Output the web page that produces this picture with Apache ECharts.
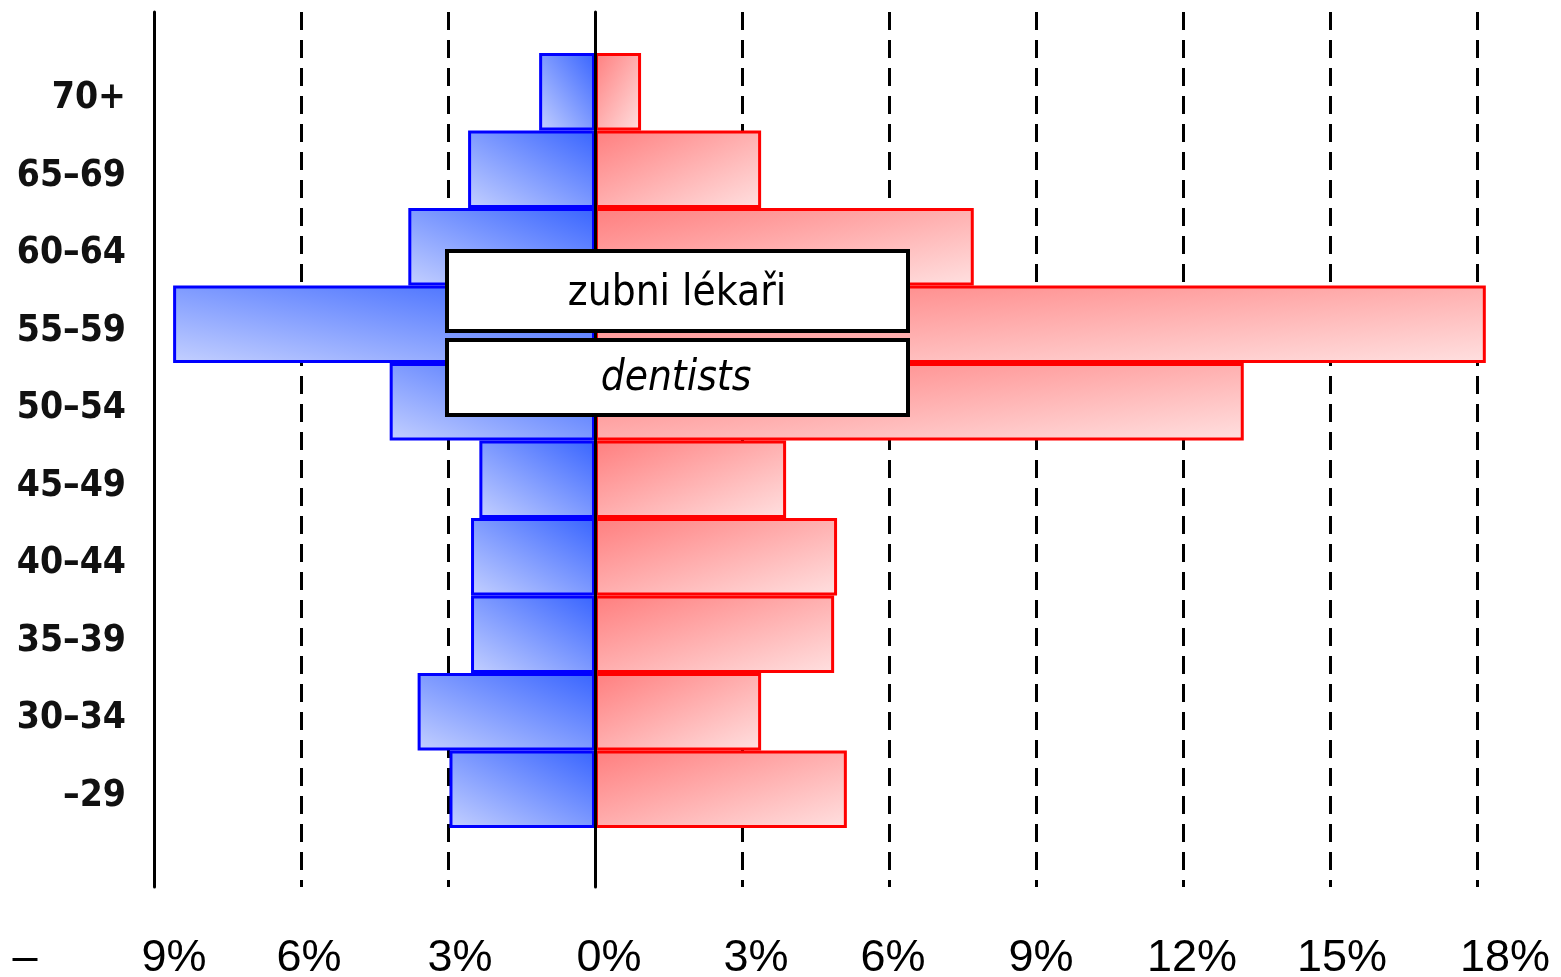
<!DOCTYPE html>
<html><head><meta charset="utf-8">
<script src="https://cdn.jsdelivr.net/npm/echarts@6/dist/echarts.min.js"></script>
<style>html,body{margin:0;padding:0;background:#fff}#c{width:1561px;height:977px}</style>
</head><body><div id="c"></div>
<script>
const categories = ['70+', '65–69', '60–64', '55–59', '50–54', '45–49', '40–44', '35–39', '30–34', '–29'];
const leftValues = [1.14, 2.59, 3.81, 8.61, 4.19, 2.36, 2.53, 2.53, 3.62, 2.97];
const rightValues = [0.94, 3.39, 7.73, 18.18, 13.24, 3.90, 4.94, 4.88, 3.39, 5.14];
const axisMin = -9, axisMax = 18, axisStep = 3;
const titleTop = 'zubni lékaři';
const titleBottom = 'dentists';

// ---- layout ----
const W = 1561, H = 977;
const gLeft = 154, gRight = 84;
const barTop = 53, barBottom = 149;
const pxPerUnit = (W - gLeft - gRight) / (axisMax - axisMin);
const bandH = (H - barTop - barBottom) / categories.length;

// ---- pick a narrow font ----
const ctx = document.createElement('canvas').getContext('2d');
function tw(font, s) { ctx.font = font; return ctx.measureText(s).width; }
const probe = '65–69 zubni lékaři dentists';
function hasFam(fam) {
  return Math.abs(tw('bold 40px ' + fam + ', monospace', probe) - tw('bold 40px monospace', probe)) > 0.5;
}
let fam = '"Liberation Sans", Arial, sans-serif', stretch = '';
const cands = [
  ['"Liberation Sans Narrow"', ''], ['"Arial Narrow"', ''], ['"DejaVu Sans Condensed"', ''],
  ['"Noto Sans"', 'condensed'], ['"DejaVu Sans"', 'condensed'], ['"Open Sans"', 'condensed']
];
for (const [f, s] of cands) {
  if (!hasFam(f)) continue;
  if (s) {
    if (tw('bold condensed 40px ' + f, probe) < 0.93 * tw('bold 40px ' + f, probe)) { fam = f; stretch = s; break; }
  } else { fam = f; stretch = ''; break; }
}
const st = stretch ? stretch + ' ' : '';
const labelWeight = 'bold' + (stretch ? ' ' + stretch : '');
const labelSize = Math.round(40 * 110 / tw(labelWeight + ' 40px ' + fam, '65–69'));
const boxSize = Math.round(40 * 218 / tw(st + '40px ' + fam, titleTop));

const tickFont = '"Liberation Sans", Arial, sans-serif';
const tickPad = {'-9': 40, '-6': 16, '-3': 24, '0': 28, '3': 28, '6': 8, '9': 10, '12': 18, '15': 24, '18': 56};
const rich = {};
Object.keys(tickPad).forEach((k, i) => {
  rich['p' + i] = {fontSize: 45, color: '#000', fontFamily: tickFont, padding: [0, 0, 0, tickPad[k]]};
});
const tickKeys = Object.keys(tickPad);

function blueGrad(v) {
  const w = v * pxPerUnit, h = bandH, d = w * w + h * h;
  return new echarts.graphic.LinearGradient(0, 1, 2 * h * h / d, 1 - 2 * w * w / d, [
    {offset: 0, color: '#c4d0ff'}, {offset: 1, color: '#3864ff'}]);
}
function redGrad(v) {
  const w = v * pxPerUnit, h = bandH, d = w * w + h * h;
  return new echarts.graphic.LinearGradient(0, 0, 2 * h * h / d, 2 * w * w / d, [
    {offset: 0, color: '#ff7e7e'}, {offset: 1, color: '#ffe0e0'}]);
}

const chart = echarts.init(document.getElementById('c'), null, {renderer: 'canvas'});
chart.setOption({
  animation: false,
  backgroundColor: '#fff',
  grid: [
    {left: gLeft, right: gRight, top: 12, bottom: 90, containLabel: false, outerBoundsMode: 'none'},
    {left: gLeft, right: gRight, top: barTop, bottom: barBottom, containLabel: false, outerBoundsMode: 'none'}
  ],
  xAxis: [
    {gridIndex: 0, type: 'value', min: axisMin, max: axisMax, interval: axisStep,
     axisLine: {show: false}, axisTick: {show: false},
     splitLine: {show: true, lineStyle: {color: '#000', width: 3, type: [18, 10]}},
     axisLabel: {
       formatter: v => '{p' + tickKeys.indexOf(String(v)) + '|' + Math.abs(v) + '%}',
       rich: rich, fontSize: 45, color: '#000', fontFamily: tickFont, margin: 49,
       showMinLabel: true, showMaxLabel: true, hideOverlap: false}},
    {gridIndex: 1, type: 'value', min: axisMin, max: axisMax, show: false}
  ],
  yAxis: [
    {gridIndex: 0, type: 'value', min: 0, max: 1, position: 'left',
     axisLine: {show: true, onZero: false, lineStyle: {color: '#000', width: 3}},
     axisLabel: {show: false}, axisTick: {show: false}, splitLine: {show: false}},
    {gridIndex: 0, type: 'value', min: 0, max: 1, position: 'left', z: 5,
     axisLine: {show: true, onZero: true, lineStyle: {color: '#000', width: 3}},
     axisLabel: {show: false}, axisTick: {show: false}, splitLine: {show: false}},
    {gridIndex: 1, type: 'category', data: categories, inverse: true,
     axisLine: {show: false}, axisTick: {show: false}, splitLine: {show: false},
     axisLabel: {formatter: v => '{c|' + v + '}', margin: 28,
       fontSize: labelSize, fontWeight: labelWeight, fontFamily: fam, color: '#111',
       rich: {c: {fontSize: labelSize, fontWeight: labelWeight, fontFamily: fam, color: '#111',
         padding: [14, 0, 0, 0]}}}}
  ],
  series: [
    {type: 'bar', xAxisIndex: 1, yAxisIndex: 2, clip: false,
     data: leftValues.map(v => ({value: -v, itemStyle: {color: blueGrad(v)}})),
     barWidth: '100%', barGap: '-100%',
     itemStyle: {borderColor: '#0000ff', borderWidth: 3}},
    {type: 'bar', xAxisIndex: 1, yAxisIndex: 2, clip: false,
     data: rightValues.map(v => ({value: v, itemStyle: {color: redGrad(v)}})),
     barWidth: '100%', barGap: '-100%',
     itemStyle: {borderColor: '#ff0000', borderWidth: 3}}
  ],
  graphic: [
    {type: 'rect', z: 100, shape: {x: 447, y: 251, width: 461, height: 80},
     style: {fill: '#fff', stroke: '#000', lineWidth: 4}},
    {type: 'text', z: 101, x: 677, y: 294,
     style: {text: titleTop, font: st + boxSize + 'px ' + fam, textAlign: 'center', textVerticalAlign: 'middle', fill: '#000'}},
    {type: 'rect', z: 100, shape: {x: 447, y: 340, width: 461, height: 75},
     style: {fill: '#fff', stroke: '#000', lineWidth: 4}},
    {type: 'text', z: 101, x: 676, y: 379,
     style: {text: titleBottom, font: 'italic ' + st + boxSize + 'px ' + fam, textAlign: 'center', textVerticalAlign: 'middle', fill: '#000'}},
    {type: 'text', z: 101, x: 25, y: 936,
     style: {text: '–', font: '45px ' + tickFont, textAlign: 'center', textVerticalAlign: 'top', fill: '#000'}}
  ]
});
</script></body></html>
